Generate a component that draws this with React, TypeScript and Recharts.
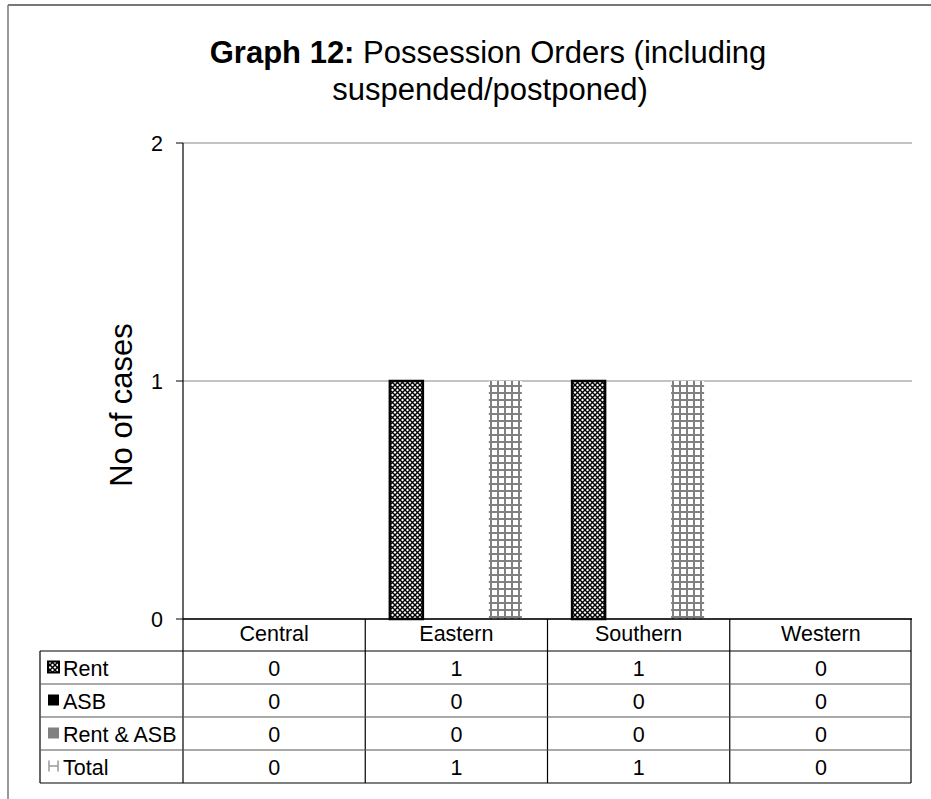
import { BarChart, Bar, XAxis, YAxis, CartesianGrid } from 'recharts'

const regions = ['Central', 'Eastern', 'Southern', 'Western']
const rent = [0, 1, 1, 0]
const asb = [0, 0, 0, 0]
const rentAsb = [0, 0, 0, 0]
const total = [0, 1, 1, 0]
const yTicks = [0, 1, 2]

const seriesNames = ['Rent', 'ASB', 'Rent & ASB', 'Total']
const seriesValues = [rent, asb, rentAsb, total]

const FONT = '"Liberation Sans", Arial, sans-serif'
const W = 931
const H = 799
const PLOT = { left: 183, top: 143, right: 912, bottom: 619 }
const TABLE_LEFT = 40
const ROW_H = 33

const chartData = regions.map((r, i) => ({
  region: r,
  Rent: rent[i],
  ASB: asb[i],
  'Rent & ASB': rentAsb[i],
  Total: total[i],
}))

function LegendKey({ name, x, y }: { name: string; x: number; y: number }) {
  if (name === 'Rent') {
    return <rect x={x} y={y} width={11} height={11} fill="url(#rentPat)" stroke="#000" strokeWidth={2} />
  }
  if (name === 'ASB') {
    return <rect x={x} y={y} width={11} height={11} fill="#000" />
  }
  if (name === 'Rent & ASB') {
    return <rect x={x} y={y} width={11} height={11} fill="#808080" />
  }
  return (
    <g stroke="#999" strokeWidth={1.5}>
      <line x1={x + 1} y1={y} x2={x + 1} y2={y + 11} />
      <line x1={x + 10} y1={y} x2={x + 10} y2={y + 11} />
      <line x1={x + 1} y1={y + 5.5} x2={x + 10} y2={y + 5.5} />
    </g>
  )
}

function DataTable() {
  const colW = (PLOT.right - PLOT.left) / regions.length
  const firstRow = PLOT.bottom + ROW_H - 1
  const lastRow = firstRow + ROW_H * seriesNames.length
  return (
    <svg width={W} height={H} style={{ position: 'absolute', left: 0, top: 0, pointerEvents: 'none' }}>
      {/* frame */}
      <line x1={8} y1={5} x2={W} y2={5} stroke="#777" strokeWidth={2} />
      <line x1={8} y1={5} x2={8} y2={H} stroke="#777" strokeWidth={1.5} />
      {/* title */}
      <text x={488} y={63} textAnchor="middle" fontFamily={FONT} fontSize={31} fill="#000">
        <tspan fontWeight="bold">Graph 12:</tspan> Possession Orders (including
      </text>
      <text x={490} y={100} textAnchor="middle" fontFamily={FONT} fontSize={31} fill="#000">
        suspended/postponed)
      </text>
      <text
        x={0}
        y={0}
        transform="translate(132, 405) rotate(-90)"
        textAnchor="middle"
        fontFamily={FONT}
        fontSize={31}
        fill="#000"
      >
        No of cases
      </text>
      {/* column lines */}
      {regions.map((r, i) => (
        <line key={r} x1={PLOT.left + i * colW} y1={PLOT.bottom} x2={PLOT.left + i * colW} y2={lastRow} stroke="#000" strokeWidth={1.2} />
      ))}
      <line x1={PLOT.right - 1} y1={PLOT.bottom} x2={PLOT.right - 1} y2={lastRow} stroke="#000" strokeWidth={1.2} />
      <line x1={TABLE_LEFT} y1={firstRow} x2={TABLE_LEFT} y2={lastRow} stroke="#000" strokeWidth={1.2} />
      {/* row lines */}
      {[0, 1, 2, 3, 4].map((k) => (
        <line
          key={k}
          x1={TABLE_LEFT}
          y1={firstRow + k * ROW_H}
          x2={PLOT.right - 1}
          y2={firstRow + k * ROW_H}
          stroke={k === 0 || k === 4 ? '#000' : '#555'}
          strokeWidth={1.2}
        />
      ))}
      {seriesNames.map((name, si) => {
        const cy = firstRow + si * ROW_H + ROW_H / 2
        return (
          <g key={name}>
            <LegendKey name={name} x={TABLE_LEFT + 8} y={cy - 6} />
            <text x={TABLE_LEFT + 23} y={cy + 8} fontFamily={FONT} fontSize={21.5} fill="#000">
              {name}
            </text>
            {seriesValues[si].map((v, ci) => (
              <text
                key={ci}
                x={PLOT.left + ci * colW + colW / 2}
                y={cy + 8}
                textAnchor="middle"
                fontFamily={FONT}
                fontSize={21.5}
                fill="#000"
              >
                {v}
              </text>
            ))}
          </g>
        )
      })}
    </svg>
  )
}

export default function App() {
  return (
    <div style={{ position: 'absolute', left: 0, top: 0, width: W, height: H, background: '#fff', fontFamily: FONT }}>
      <BarChart
        width={W}
        height={H}
        data={chartData}
        margin={{ top: PLOT.top, left: 0, right: W - PLOT.right, bottom: 0 }}
        barGap={0}
        barCategoryGap="13.5%"
      >
        <defs>
          <pattern id="rentPat" width={5} height={5} patternUnits="userSpaceOnUse">
            <rect width={5} height={5} fill="#fff" />
            <path d="M0,0 L5,5 M5,0 L0,5" stroke="#000" strokeWidth={1.4} />
          </pattern>
          <pattern id="totalPat" width={7} height={7} patternUnits="userSpaceOnUse">
            <rect width={7} height={7} fill="#fff" />
            <rect x={0} y={0} width={2} height={7} fill="#808080" />
            <rect x={0} y={0} width={7} height={2} fill="#808080" />
          </pattern>
        </defs>
        <CartesianGrid vertical={false} stroke="#888" strokeWidth={1.2} yAxisId="left" />
        <XAxis
          dataKey="region"
          height={H - PLOT.bottom}
          tickLine={false}
          tickSize={0}
          tickMargin={7}
          axisLine={{ stroke: '#000', strokeWidth: 1.5 }}
          tick={{ fontSize: 21.5, fill: '#000', fontFamily: FONT }}
        />
        <YAxis
          yAxisId="left"
          domain={[0, 2]}
          ticks={yTicks}
          width={PLOT.left}
          tickSize={7}
          tickMargin={13}
          axisLine={{ stroke: '#000', strokeWidth: 1.2 }}
          tickLine={{ stroke: '#000' }}
          tick={{ fontSize: 21.5, fill: '#000', fontFamily: FONT }}
        />
        <YAxis
          yAxisId="right"
          orientation="right"
          domain={[0, 2]}
          width={0}
          tick={false}
          tickLine={false}
          axisLine={{ stroke: '#888', strokeWidth: 1.5 }}
        />
        <Bar yAxisId="left" dataKey="Rent" fill="url(#rentPat)" stroke="#000" strokeWidth={2.5} isAnimationActive={false} />
        <Bar yAxisId="left" dataKey="ASB" fill="#000" isAnimationActive={false} />
        <Bar yAxisId="left" dataKey="Rent & ASB" fill="#808080" isAnimationActive={false} />
        <Bar yAxisId="left" dataKey="Total" fill="url(#totalPat)" isAnimationActive={false} />
      </BarChart>
      <DataTable />
    </div>
  )
}
